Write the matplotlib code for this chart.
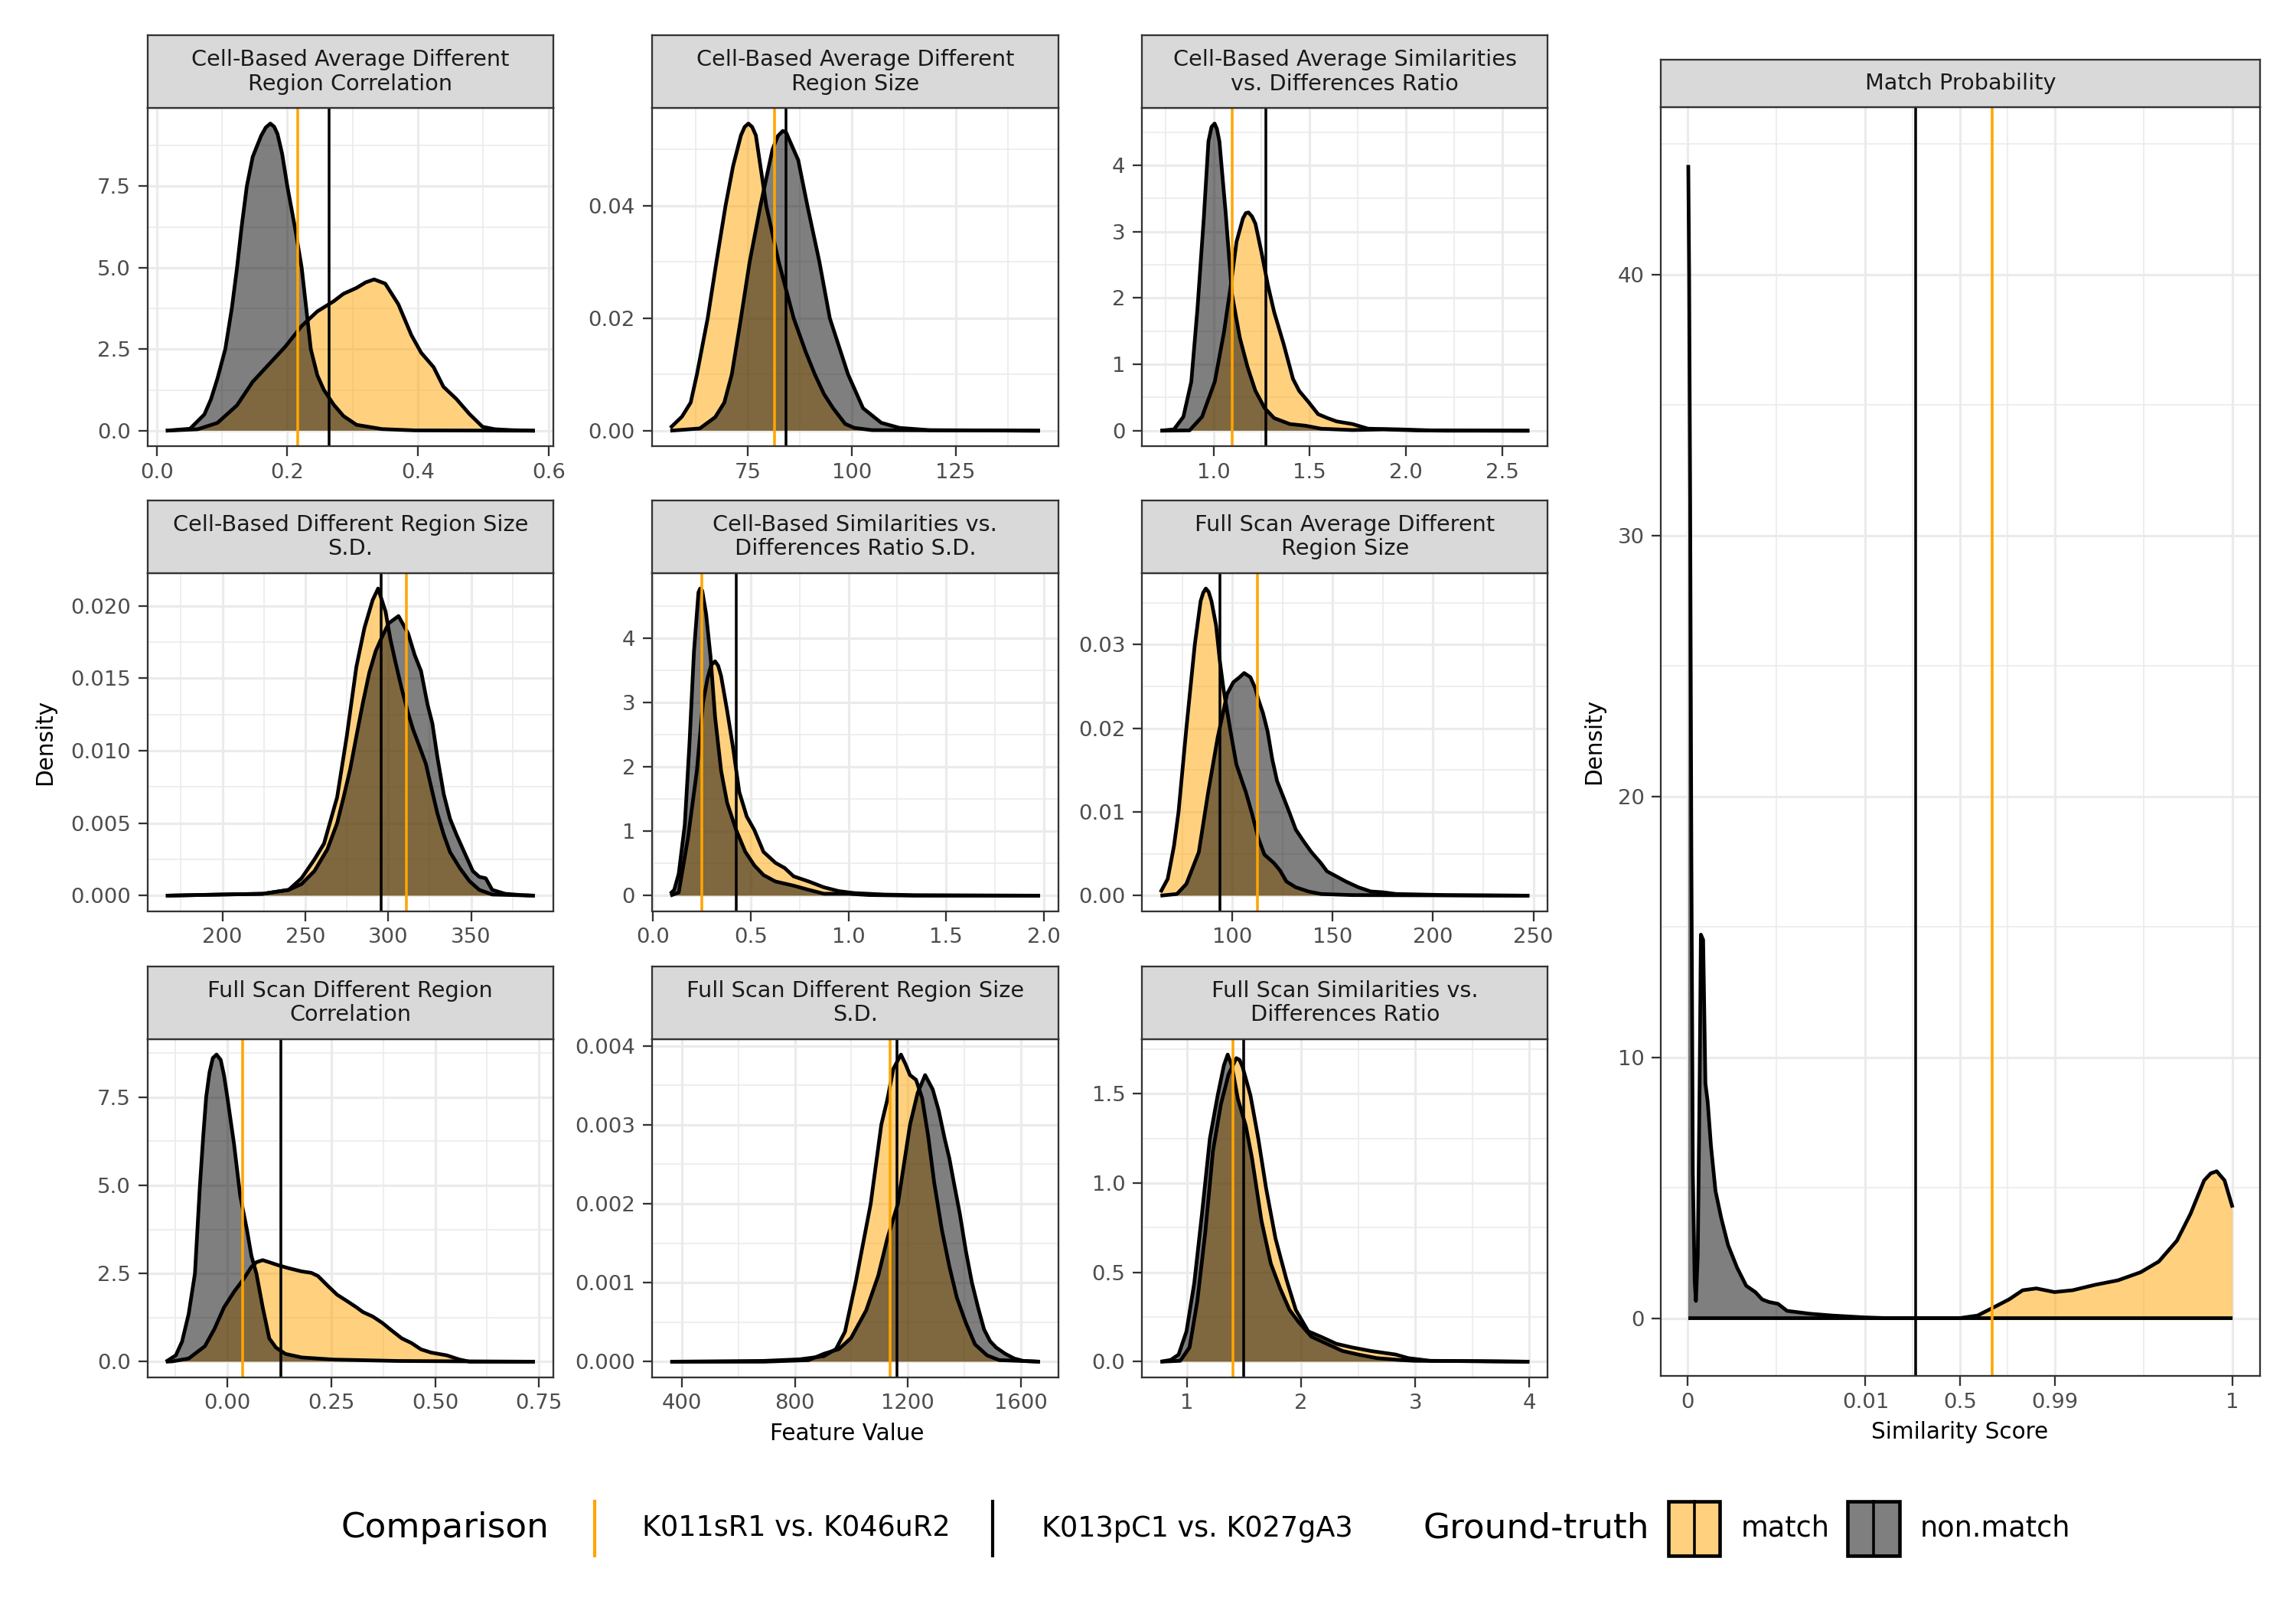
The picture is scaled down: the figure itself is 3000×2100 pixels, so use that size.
import matplotlib
matplotlib.use("Agg")
import matplotlib.pyplot as plt
from matplotlib.patches import Rectangle
from matplotlib.lines import Line2D
import numpy as np

plt.rcParams['font.family'] = ['DejaVu Sans']

# ------------------------------------------------------------------ data
titles = [
    "Cell-Based Average Different\nRegion Correlation",
    "Cell-Based Average Different\nRegion Size",
    "Cell-Based Average Similarities\nvs. Differences Ratio",
    "Cell-Based Different Region Size\nS.D.",
    "Cell-Based Similarities vs.\nDifferences Ratio S.D.",
    "Full Scan Average Different\nRegion Size",
    "Full Scan Different Region\nCorrelation",
    "Full Scan Different Region Size\nS.D.",
    "Full Scan Similarities vs.\nDifferences Ratio",
]
right_title = "Match Probability"
comparisons = ["K011sR1 vs. K046uR2", "K013pC1 vs. K027gA3"]
ground_truth = ["match", "non.match"]

# Panel 1: Cell-Based Average Different Region Correlation
p1_match_x = [0.014, 0.063, 0.093, 0.123, 0.147, 0.172, 0.197, 0.222, 0.246, 0.271, 0.286, 0.306, 0.320, 0.333,
              0.350, 0.370, 0.390, 0.405, 0.424, 0.439, 0.459, 0.479, 0.499, 0.518, 0.543, 0.579]
p1_match_y = [0.0, 0.045, 0.24, 0.78, 1.50, 2.04, 2.58, 3.21, 3.66, 3.97, 4.20, 4.38, 4.55, 4.64,
              4.51, 3.88, 2.93, 2.39, 1.95, 1.35, 0.97, 0.51, 0.12, 0.045, 0.018, 0.0]
p1_non_x = [0.014, 0.051, 0.073, 0.083, 0.093, 0.105, 0.115, 0.123, 0.130, 0.138, 0.147, 0.160, 0.167, 0.174,
            0.180, 0.185, 0.192, 0.200, 0.212, 0.222, 0.229, 0.236, 0.246, 0.256, 0.271, 0.286, 0.306, 0.345,
            0.395, 0.579]
p1_non_y = [0.0, 0.06, 0.5, 0.96, 1.6, 2.5, 3.75, 5.0, 6.25, 7.5, 8.4, 9.05, 9.30, 9.42,
            9.32, 9.1, 8.5, 7.5, 6.2, 5.0, 3.75, 2.5, 1.7, 1.25, 0.8, 0.45, 0.18, 0.05,
            0.01, 0.0]
p1_vlines = [0.216, 0.264]

# Panel 2: Cell-Based Average Different Region Size
p2_match_x = [56.3, 59.1, 61.2, 62.7, 65.3, 67.4, 69.6, 71.4, 73.3, 74.2, 75.1, 76.0, 76.9, 79.4, 82.4, 86.0,
              88.9, 91.1, 93.3, 95.5, 98.4, 100.6, 104.9, 145.3]
p2_match_y = [0.0005, 0.0025, 0.0050, 0.0100, 0.0200, 0.0300, 0.0400, 0.0470, 0.0525, 0.0540, 0.0546, 0.0540,
              0.0525, 0.0400, 0.0300, 0.0200, 0.0140, 0.0100, 0.0065, 0.0040, 0.0012, 0.0005, 0.0001, 0.0]
p2_non_x = [56.3, 63.4, 67.1, 69.3, 71.1, 73.3, 75.4, 78.0, 80.9, 82.2, 83.4, 84.2, 84.9, 87.1, 89.3, 92.2,
            94.7, 99.1, 102.7, 107.1, 111.5, 118.7, 145.3]
p2_non_y = [0.0, 0.0004, 0.0024, 0.0050, 0.0100, 0.0200, 0.0300, 0.0400, 0.0500, 0.0524, 0.0533, 0.0530,
            0.0518, 0.0481, 0.0400, 0.0300, 0.0200, 0.0100, 0.0040, 0.0014, 0.0005, 0.0001, 0.0]
p2_vlines = [81.3, 84.2]

# Panel 3: Cell-Based Average Similarities vs. Differences Ratio
p3_match_x = [0.725, 0.876, 0.941, 1.007, 1.055, 1.088, 1.120, 1.153, 1.168, 1.182, 1.200, 1.218, 1.250, 1.283,
              1.315, 1.364, 1.413, 1.445, 1.494, 1.543, 1.592, 1.640, 1.722, 1.803, 1.965, 2.128, 2.640]
p3_match_y = [0.0, 0.005, 0.21, 0.74, 1.49, 2.15, 2.85, 3.20, 3.28, 3.29, 3.23, 3.12, 2.68, 2.19,
              1.79, 1.31, 0.78, 0.60, 0.43, 0.25, 0.19, 0.14, 0.10, 0.03, 0.02, 0.005, 0.0]
p3_non_x = [0.725, 0.795, 0.844, 0.885, 0.917, 0.950, 0.974, 0.990, 1.006, 1.018, 1.031, 1.063, 1.096, 1.137,
            1.177, 1.218, 1.266, 1.315, 1.397, 1.478, 1.559, 1.722, 1.884, 2.047, 2.209, 2.640]
p3_non_y = [0.0, 0.02, 0.21, 0.74, 1.84, 3.21, 4.36, 4.58, 4.63, 4.55, 4.36, 3.30, 2.06, 1.40,
            0.96, 0.60, 0.34, 0.19, 0.10, 0.075, 0.03, 0.01, 0.02, 0.005, 0.0, 0.0]
p3_vlines = [1.099, 1.271]

# Panel 4: Cell-Based Different Region Size S.D.
p4_match_x = [165.9, 199.0, 224.4, 240.0, 247.7, 255.5, 261.3, 269.2, 275.0, 280.8, 285.7, 290.6, 293.9,
              298.4, 301.3, 304.2, 308.1, 312.0, 314.9, 319.8, 322.7, 325.7, 329.6, 333.5, 337.3, 343.2,
              349.0, 354.9, 362.7, 388.4]
p4_match_y = [0.0, 0.00008, 0.00013, 0.0004, 0.0012, 0.0025, 0.0036, 0.0068, 0.0110, 0.0158, 0.0185, 0.0204,
              0.0212, 0.0196, 0.0177, 0.0162, 0.0143, 0.0126, 0.0115, 0.0100, 0.0091, 0.0076, 0.0057, 0.0042,
              0.0030, 0.0019, 0.0010, 0.0004, 0.00008, 0.0]
p4_non_x = [165.9, 224.4, 240.0, 247.7, 255.5, 263.3, 269.2, 273.1, 277.0, 280.8, 284.7, 288.6, 292.5, 296.4,
            300.3, 306.2, 312.0, 316.0, 319.8, 323.7, 326.6, 329.6, 333.5, 337.3, 341.2, 345.1, 351.0, 354.9,
            358.8, 362.7, 370.5, 380.2, 388.4]
p4_non_y = [0.0, 0.00013, 0.0004, 0.0008, 0.0017, 0.0032, 0.0050, 0.0068, 0.0087, 0.0110, 0.0133, 0.0154,
            0.0169, 0.0179, 0.0188, 0.0193, 0.0181, 0.0166, 0.0155, 0.0132, 0.0119, 0.0096, 0.0070, 0.0053,
            0.0042, 0.0032, 0.0017, 0.0013, 0.0012, 0.0004, 0.00013, 0.00004, 0.0]
p4_vlines = [311.0, 295.5]

# Panel 5: Cell-Based Similarities vs. Differences Ratio S.D.
p5_match_x = [0.088, 0.131, 0.178, 0.224, 0.255, 0.278, 0.297, 0.317, 0.333, 0.348, 0.379, 0.410, 0.441, 0.479,
              0.518, 0.565, 0.626, 0.673, 0.719, 0.797, 0.874, 0.951, 1.029, 1.183, 1.338, 1.980]
p5_match_y = [0.0, 0.05, 0.89, 1.94, 2.99, 3.37, 3.58, 3.64, 3.57, 3.41, 2.87, 2.28, 1.61, 1.23,
              1.02, 0.68, 0.51, 0.43, 0.30, 0.22, 0.13, 0.07, 0.04, 0.017, 0.008, 0.0]
p5_non_x = [0.088, 0.108, 0.131, 0.162, 0.186, 0.209, 0.232, 0.241, 0.251, 0.271, 0.294, 0.317, 0.348, 0.379,
            0.425, 0.472, 0.518, 0.565, 0.626, 0.719, 0.797, 0.874, 0.998, 1.106, 1.338, 1.980]
p5_non_y = [0.03, 0.09, 0.34, 1.10, 2.36, 3.79, 4.71, 4.77, 4.74, 4.38, 3.71, 2.78, 1.94, 1.44,
            1.02, 0.68, 0.47, 0.32, 0.22, 0.155, 0.09, 0.03, 0.03, 0.01, 0.0, 0.0]
p5_vlines = [0.251, 0.425]

# Panel 6: Full Scan Average Different Region Size
p6_match_x = [64.2, 67.8, 70.9, 73.2, 77.1, 81.3, 84.2, 85.5, 86.8, 88.2, 89.6, 91.9, 93.8, 95.6, 98.9, 102.0,
              104.4, 106.7, 109.8, 112.9, 116.0, 120.7, 123.8, 126.9, 131.6, 137.9, 144.1, 159.7, 248.0]
p6_match_y = [0.0004, 0.0020, 0.0059, 0.0100, 0.0200, 0.0300, 0.0352, 0.0362, 0.0367, 0.0363, 0.0352, 0.0323,
              0.0280, 0.0247, 0.0199, 0.0157, 0.0140, 0.0124, 0.0098, 0.0069, 0.0049, 0.0039, 0.0030, 0.0017,
              0.0010, 0.0005, 0.0002, 0.00007, 0.0]
p6_non_x = [64.2, 72.4, 77.1, 80.2, 83.3, 88.0, 92.7, 97.4, 100.5, 103.6, 105.9, 109.0, 111.4, 112.9,
            115.3, 117.6, 119.9, 122.3, 125.4, 128.5, 131.6, 135.5, 139.4, 144.1, 147.2, 151.9, 156.5,
            162.8, 169.0, 175.2, 181.5, 206.4, 248.0]
p6_non_y = [0.0, 0.0002, 0.0014, 0.0033, 0.0052, 0.0124, 0.0189, 0.0241, 0.0255, 0.0261, 0.0266, 0.0261,
            0.0248, 0.0235, 0.0218, 0.0196, 0.0163, 0.0137, 0.0118, 0.0099, 0.0079, 0.0065, 0.0052,
            0.0039, 0.0029, 0.0023, 0.0017, 0.0010, 0.0005, 0.0004, 0.0002, 0.00007, 0.0]
p6_vlines = [112.5, 93.9]

# Panel 7: Full Scan Different Region Correlation
p7_match_x = [-0.148, -0.132, -0.093, -0.054, -0.031, -0.008, 0.016, 0.039, 0.058, 0.070, 0.085, 0.101,
              0.124, 0.148, 0.179, 0.202, 0.218, 0.241, 0.264, 0.288, 0.311, 0.326, 0.350, 0.373, 0.396,
              0.420, 0.443, 0.466, 0.490, 0.528, 0.559, 0.583, 0.740]
p7_match_y = [0.0, 0.01, 0.09, 0.44, 0.93, 1.54, 1.98, 2.34, 2.69, 2.82, 2.88, 2.82,
              2.73, 2.65, 2.56, 2.52, 2.43, 2.16, 1.90, 1.72, 1.54, 1.41, 1.28, 1.10, 0.88,
              0.66, 0.53, 0.35, 0.26, 0.18, 0.06, 0.0, 0.0]
p7_non_x = [-0.148, -0.124, -0.109, -0.093, -0.078, -0.066, -0.058, -0.051, -0.043, -0.035, -0.026, -0.016,
            -0.008, 0.000, 0.016, 0.031, 0.047, 0.058, 0.070, 0.085, 0.101, 0.117, 0.140, 0.179, 0.256,
            0.334, 0.412, 0.740]
p7_non_y = [0.0, 0.18, 0.57, 1.36, 2.50, 5.00, 6.40, 7.50, 8.20, 8.61, 8.71, 8.56,
            8.12, 7.50, 6.18, 4.70, 3.75, 3.00, 2.50, 1.55, 0.66, 0.40, 0.22, 0.12, 0.06,
            0.04, 0.02, 0.0]
p7_vlines = [0.037, 0.128]

# Panel 8: Full Scan Different Region Size S.D.
p8_match_x = [359.4, 688.8, 817.1, 902.7, 945.5, 977.5, 1015.0, 1041.7, 1068.4, 1105.9, 1127.3, 1148.7, 1175.4,
              1191.4, 1207.5, 1228.9, 1250.3, 1271.7, 1293.0, 1319.8, 1346.5, 1373.3, 1405.3, 1437.4, 1480.2,
              1522.9, 1667.4]
p8_match_y = [0.0, 0.00001, 0.00003, 0.00007, 0.00016, 0.00038, 0.00100, 0.00150, 0.00200, 0.00300, 0.00332,
              0.00371, 0.00389, 0.00377, 0.00363, 0.00357, 0.00334, 0.00286, 0.00227, 0.00168, 0.00121,
              0.00081, 0.00049, 0.00022, 0.00008, 0.00002, 0.0]
p8_non_x = [359.4, 688.8, 849.2, 902.7, 956.1, 998.9, 1052.4, 1095.2, 1127.3, 1164.7, 1186.1, 1207.5, 1234.2,
            1261.0, 1287.7, 1309.1, 1330.5, 1346.5, 1362.6, 1384.0, 1405.3, 1426.7, 1448.1, 1469.5, 1490.9,
            1512.3, 1544.4, 1576.5, 1608.6, 1667.4]
p8_non_y = [0.0, 0.0, 0.00002, 0.0001, 0.00016, 0.0003, 0.00065, 0.00109, 0.00156, 0.00200, 0.00250, 0.00300,
            0.00340, 0.00363, 0.00345, 0.00318, 0.00282, 0.00258, 0.00227, 0.00187, 0.00140, 0.00100,
            0.00069, 0.00041, 0.00026, 0.00018, 0.00010, 0.00004, 0.00001, 0.0]
p8_vlines = [1135.8, 1162.6]

# Panel 9: Full Scan Similarities vs. Differences Ratio
p9_match_x = [0.767, 0.940, 1.022, 1.090, 1.159, 1.227, 1.296, 1.364, 1.432, 1.460, 1.487, 1.556, 1.624, 1.693,
              1.775, 1.871, 1.953, 2.062, 2.172, 2.309, 2.446, 2.610, 2.829, 2.938, 3.130, 4.000]
p9_match_y = [0.0, 0.005, 0.08, 0.34, 0.72, 1.18, 1.44, 1.61, 1.70, 1.69, 1.65, 1.49, 1.25, 0.97,
              0.69, 0.46, 0.29, 0.17, 0.14, 0.10, 0.08, 0.06, 0.04, 0.02, 0.005, 0.0]
p9_non_x = [0.767, 0.858, 0.926, 0.995, 1.063, 1.131, 1.200, 1.268, 1.323, 1.356, 1.391, 1.446, 1.515,
            1.569, 1.652, 1.734, 1.816, 1.898, 1.980, 2.090, 2.226, 2.363, 2.500, 2.664, 2.856, 2.993,
            3.540, 4.000]
p9_non_y = [0.0, 0.01, 0.04, 0.17, 0.44, 0.83, 1.25, 1.49, 1.66, 1.72, 1.66, 1.47, 1.32,
            1.14, 0.79, 0.55, 0.41, 0.29, 0.22, 0.14, 0.10, 0.06, 0.04, 0.02, 0.01, 0.005,
            0.003, 0.0]
p9_vlines = [1.405, 1.495]

# Right panel: Match Probability (x in logit-transformed similarity score units)
mp_non_t = [-13.19, -13.15, -13.10, -13.04, -12.97, -12.88, -12.82, -12.73, -12.64, -12.58, -12.47, -12.36,
            -12.25, -12.09, -11.87, -11.59, -11.26, -10.82, -10.38, -9.94, -9.61, -9.28, -8.84, -8.40,
            -7.30, -6.20, -4.66, -3.56, 13.21]
mp_non_y = [44.2, 40.1, 31.4, 17.6, 5.56, 1.41, 0.66, 2.45, 9.0, 14.7, 14.5, 9.0,
            8.3, 6.6, 4.87, 3.83, 2.80, 1.93, 1.24, 1.0, 0.72, 0.62, 0.55, 0.28,
            0.17, 0.10, 0.03, 0.0, 0.0]
mp_match_t = [-13.19, -0.04, 0.84, 1.71, 2.37, 3.03, 3.69, 4.57, 5.45, 6.55, 7.65, 8.75, 9.63, 10.51,
              11.17, 11.83, 12.15, 12.44, 12.82, 13.21]
mp_match_y = [0.0, 0.0, 0.10, 0.45, 0.72, 1.07, 1.14, 1.00, 1.07, 1.28, 1.45, 1.76, 2.17, 2.97,
              4.00, 5.28, 5.55, 5.63, 5.28, 4.24]
mp_vlines = [1.56, -2.18]
mp_xticks = [-13.21, -4.595, 0.0, 4.595, 13.21]
mp_xlabels = ["0", "0.01", "0.5", "0.99", "1"]
mp_yticks = [0, 10, 20, 30, 40]
mp_ylabels = ["0", "10", "20", "30", "40"]

# tick breaks / labels
p_xticks = [[0.0, 0.2, 0.4, 0.6], [75, 100, 125], [1.0, 1.5, 2.0, 2.5],
            [200, 250, 300, 350], [0.0, 0.5, 1.0, 1.5, 2.0], [100, 150, 200, 250],
            [0.0, 0.25, 0.5, 0.75], [400, 800, 1200, 1600], [1, 2, 3, 4]]
p_xlabels = [["0.0", "0.2", "0.4", "0.6"], ["75", "100", "125"], ["1.0", "1.5", "2.0", "2.5"],
             ["200", "250", "300", "350"], ["0.0", "0.5", "1.0", "1.5", "2.0"], ["100", "150", "200", "250"],
             ["0.00", "0.25", "0.50", "0.75"], ["400", "800", "1200", "1600"], ["1", "2", "3", "4"]]
p_yticks = [[0, 2.5, 5.0, 7.5], [0, 0.02, 0.04], [0, 1, 2, 3, 4],
            [0, 0.005, 0.010, 0.015, 0.020], [0, 1, 2, 3, 4], [0, 0.01, 0.02, 0.03],
            [0, 2.5, 5.0, 7.5], [0, 0.001, 0.002, 0.003, 0.004], [0, 0.5, 1.0, 1.5]]
p_ylabels = [["0.0", "2.5", "5.0", "7.5"], ["0.00", "0.02", "0.04"], ["0", "1", "2", "3", "4"],
             ["0.000", "0.005", "0.010", "0.015", "0.020"], ["0", "1", "2", "3", "4"],
             ["0.00", "0.01", "0.02", "0.03"], ["0.0", "2.5", "5.0", "7.5"],
             ["0.000", "0.001", "0.002", "0.003", "0.004"], ["0.0", "0.5", "1.0", "1.5"]]

panels = [
    (p1_match_x, p1_match_y, p1_non_x, p1_non_y, p1_vlines),
    (p2_match_x, p2_match_y, p2_non_x, p2_non_y, p2_vlines),
    (p3_match_x, p3_match_y, p3_non_x, p3_non_y, p3_vlines),
    (p4_match_x, p4_match_y, p4_non_x, p4_non_y, p4_vlines),
    (p5_match_x, p5_match_y, p5_non_x, p5_non_y, p5_vlines),
    (p6_match_x, p6_match_y, p6_non_x, p6_non_y, p6_vlines),
    (p7_match_x, p7_match_y, p7_non_x, p7_non_y, p7_vlines),
    (p8_match_x, p8_match_y, p8_non_x, p8_non_y, p8_vlines),
    (p9_match_x, p9_match_y, p9_non_x, p9_non_y, p9_vlines),
]

# ------------------------------------------------------------------ style
W, H = 3000, 2100
ORANGE = "#FFA500"
BORDER = "#333333"
GRID = "#EBEBEB"
TICKTXT = "#4D4D4D"
STRIPFILL = "#D9D9D9"
LW_CURVE = 1.15
LW_VLINE = 0.85
TICK_FS = 6.6
STRIP_FS = 6.9
TITLE_FS = 7.1

fig = plt.figure(figsize=(10, 7), dpi=300)
fig.patch.set_facecolor("white")


def box(x0, y0, x1, y1):
    return [x0 / W, 1 - y1 / H, (x1 - x0) / W, (y1 - y0) / H]


def minor_between(ticks, extend=True):
    t = np.asarray(ticks, float)
    mids = list((t[:-1] + t[1:]) / 2)
    if extend:
        d = t[1] - t[0]
        mids = [t[0] - d / 2] + mids + [t[-1] + d / 2]
    return mids


def style_axes(ax, xt, xl, yt, yl, xminor, yminor):
    ax.set_xticks(xt)
    ax.set_xticklabels(xl)
    ax.set_yticks(yt)
    ax.set_yticklabels(yl)
    ax.set_xticks(xminor, minor=True)
    ax.set_yticks(yminor, minor=True)
    ax.tick_params(which="major", length=3.0, width=0.55, color=BORDER, labelsize=TICK_FS,
                   labelcolor=TICKTXT, pad=2.2)
    ax.tick_params(which="minor", length=0)
    ax.grid(True, which="major", color=GRID, lw=0.75)
    ax.grid(True, which="minor", color=GRID, lw=0.4)
    ax.set_axisbelow(True)
    for s in ax.spines.values():
        s.set_color(BORDER)
        s.set_linewidth(0.55)
        s.set_zorder(6)


def strip(x0, y0, x1, y1, text):
    sa = fig.add_axes(box(x0, y0, x1, y1))
    sa.set_facecolor(STRIPFILL)
    sa.set_xticks([])
    sa.set_yticks([])
    for s in sa.spines.values():
        s.set_color(BORDER)
        s.set_linewidth(0.55)
    sa.text(0.5, 0.5, text, ha="center", va="center", fontsize=STRIP_FS, color="#1A1A1A",
            linespacing=1.15, transform=sa.transAxes)


def draw_density(ax, mx, my, nx, ny, vl):
    ax.fill_between(mx, my, 0, facecolor=ORANGE, alpha=0.5, lw=0, zorder=2)
    ax.plot(mx, my, color="black", lw=LW_CURVE, zorder=2.5, solid_joinstyle="round",
            solid_capstyle="butt")
    ax.fill_between(nx, ny, 0, facecolor="black", alpha=0.5, lw=0, zorder=3)
    ax.plot(nx, ny, color="black", lw=LW_CURVE, zorder=3.5, solid_joinstyle="round",
            solid_capstyle="butt")
    ax.axvline(vl[0], color=ORANGE, lw=LW_VLINE, zorder=4)
    ax.axvline(vl[1], color="black", lw=LW_VLINE, zorder=4)


def set_limits(ax, xs, ys):
    lo, hi = min(xs), max(xs)
    pad = 0.05 * (hi - lo)
    ymax = max(ys)
    ax.set_xlim(lo - pad, hi + pad)
    ax.set_ylim(-0.05 * ymax, ymax * 1.05)


col_x = [(192.6, 722.9), (851.7, 1383.0), (1492.2, 2022.4)]
row_top = [141.4, 749.0, 1358.0]
PANEL_H = 441.5
STRIP_H = 95.0

for i, (mx, my, nx, ny, vl) in enumerate(panels):
    r, c = divmod(i, 3)
    x0, x1 = col_x[c]
    y0 = row_top[r]
    ax = fig.add_axes(box(x0, y0, x1, y0 + PANEL_H))
    draw_density(ax, mx, my, nx, ny, vl)
    style_axes(ax, p_xticks[i], p_xlabels[i], p_yticks[i], p_ylabels[i],
               minor_between(p_xticks[i]), minor_between(p_yticks[i]))
    set_limits(ax, list(mx) + list(nx), list(my) + list(ny))
    strip(x0, y0 - STRIP_H, x1, y0, titles[i])

# right panel
rx0, rx1, ry0, ry1 = 2170.4, 2952.7, 140.2, 1797.9
axr = fig.add_axes(box(rx0, ry0, rx1, ry1))
draw_density(axr, mp_match_t, mp_match_y, mp_non_t, mp_non_y, mp_vlines)
style_axes(axr, mp_xticks, mp_xlabels, mp_yticks, mp_ylabels,
           minor_between(mp_xticks, extend=False), minor_between(mp_yticks))
set_limits(axr, mp_match_t + mp_non_t, mp_match_y + mp_non_y)
strip(rx0, 77.7, rx1, ry0, right_title)

# axis titles
fig.text(1107 / W, 1 - 1873 / H, "Feature Value", ha="center", va="center", fontsize=TITLE_FS)
fig.text(59 / W, 1 - 970 / H, "Density", ha="center", va="center", rotation=90, fontsize=TITLE_FS)
fig.text(2561 / W, 1 - 1871 / H, "Similarity Score", ha="center", va="center", fontsize=TITLE_FS)
fig.text(2083 / W, 1 - 969 / H, "Density", ha="center", va="center", rotation=90, fontsize=TITLE_FS)

# legend
LY = 1997
ky0, ky1 = 1962, 2033


def fx(x):
    return x / W


def fy(y):
    return 1 - y / H


fig.text(fx(446), fy(LY), "Comparison", ha="left", va="center", fontsize=10.9)
fig.add_artist(Line2D([fx(777), fx(777)], [fy(ky1), fy(ky0)], color=ORANGE, lw=1.0))
fig.text(fx(839), fy(LY), comparisons[0], ha="left", va="center", fontsize=8.8)
fig.add_artist(Line2D([fx(1297), fx(1297)], [fy(ky1), fy(ky0)], color="black", lw=1.0))
fig.text(fx(1361), fy(LY), comparisons[1], ha="left", va="center", fontsize=8.8)
fig.text(fx(1859), fy(LY), "Ground-truth", ha="left", va="center", fontsize=10.9)
for (bx0, bx1, tx, fc, lab) in [(2180, 2247, 2275, (1.0, 0.647, 0.0, 0.5), ground_truth[0]),
                                (2414, 2482, 2509, (0.0, 0.0, 0.0, 0.5), ground_truth[1])]:
    fig.add_artist(Rectangle((fx(bx0), fy(ky1)), (bx1 - bx0) / W, (ky1 - ky0) / H,
                             facecolor=fc, edgecolor="black", lw=1.1, transform=fig.transFigure))
    xm = (bx0 + bx1) / 2
    fig.add_artist(Line2D([fx(xm), fx(xm)], [fy(ky1), fy(ky0)], color="black", lw=0.85))
    fig.text(fx(tx), fy(LY), lab, ha="left", va="center", fontsize=8.8)

fig.savefig("out.png", dpi=300, facecolor="white")
